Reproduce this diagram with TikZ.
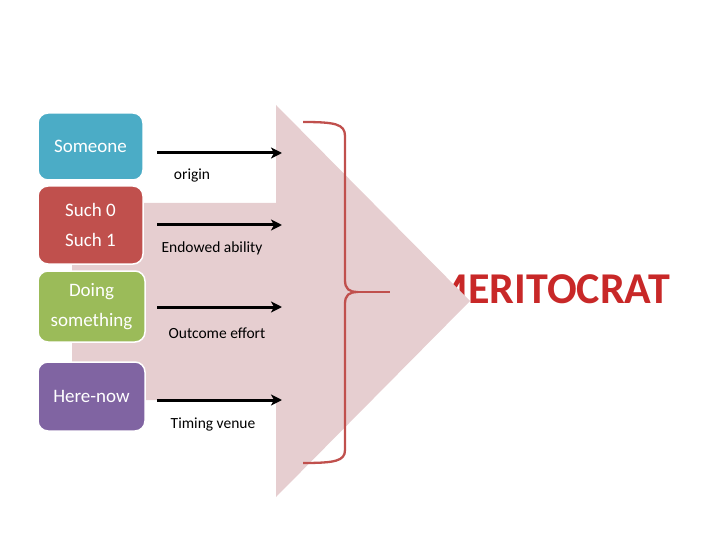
\documentclass[tikz,border=0pt]{standalone}
\usepackage{fontspec}
\setmainfont{Carlito}
\usetikzlibrary{arrows.meta,positioning,calc}
\definecolor{blushpink}{RGB}{230,206,208}
\definecolor{bracered}{RGB}{192,80,77}
\definecolor{titlered}{RGB}{200,40,40}
\definecolor{teal}{RGB}{75,172,198}
\definecolor{brick}{RGB}{192,80,77}
\definecolor{olive}{RGB}{155,187,89}
\definecolor{violet}{RGB}{128,100,162}

\begin{document}
\begin{tikzpicture} [x=1pt, y=-1pt,
        box/.style={draw=white, line width=1.5pt, rounded corners=10pt, inner sep=0pt,
          text=white, align=center, font=\fontsize{19}{30}\selectfont},
        flow/.style={line width=3pt, -{Stealth[length=11pt,width=11pt,inset=3pt]}},
        lab/.style={font=\fontsize{15.5}{18}\selectfont, inner sep=0pt}]
        \useasboundingbox (0,0) rectangle (720,540);
        % title sits under the big arrow
        \node[font=\fontsize{44}{50}\selectfont\bfseries, text=titlered, anchor=base east, inner sep=0pt] (title) at (670,303) {MERITOCRAT};
        \fill[blushpink] (72,203) -- (276,203) -- (276,105) -- (470,301) -- (276,497) -- (276,400) -- (72,400) -- cycle;
        % brace
        \draw[bracered, line width=2.3pt] (303,122) .. controls (335,122) and (345,124) .. (345,136)
          -- (345,280) .. controls (345,289) and (349,292) .. (358,292)
          .. controls (349,292) and (345,295) .. (345,304)
          -- (345,450) .. controls (345,461) and (335,463) .. (303,463);
        \draw[bracered, line width=2.3pt] (356,292) -- (390,292);
        % boxes
        \node[box, fill=teal, minimum width=105pt, minimum height=67pt] (someone) at (90.5,146.5) {Someone};
        \node[box, fill=brick, minimum width=105pt, minimum height=78pt] (such) at (90.5,225) {Such 0\\Such 1};
        \node[box, fill=olive, minimum width=107pt, minimum height=71pt] (doing) at (91.5,306.5) {Doing\\something};
        \node[box, fill=violet, minimum width=107pt, minimum height=69pt] (here) at (91.5,396.5) {Here-now};
        % arrows
        \foreach \i\y in {1/153, 2/225, 3/307, 4/400} {
          \coordinate (s\i) at (157,\y);
          \coordinate (e\i) at (282,\y);
          \draw[flow] (s\i) -- (e\i);
        };
        \node[lab] (origin) at (192,176) {origin};
        \node[lab] (ability) at (212,248) {Endowed ability};
        \node[lab] (effort) at (217,333) {Outcome effort};
        \node[lab] (venue) at (213,424) {Timing venue};
      \end{tikzpicture}
\end{document}
